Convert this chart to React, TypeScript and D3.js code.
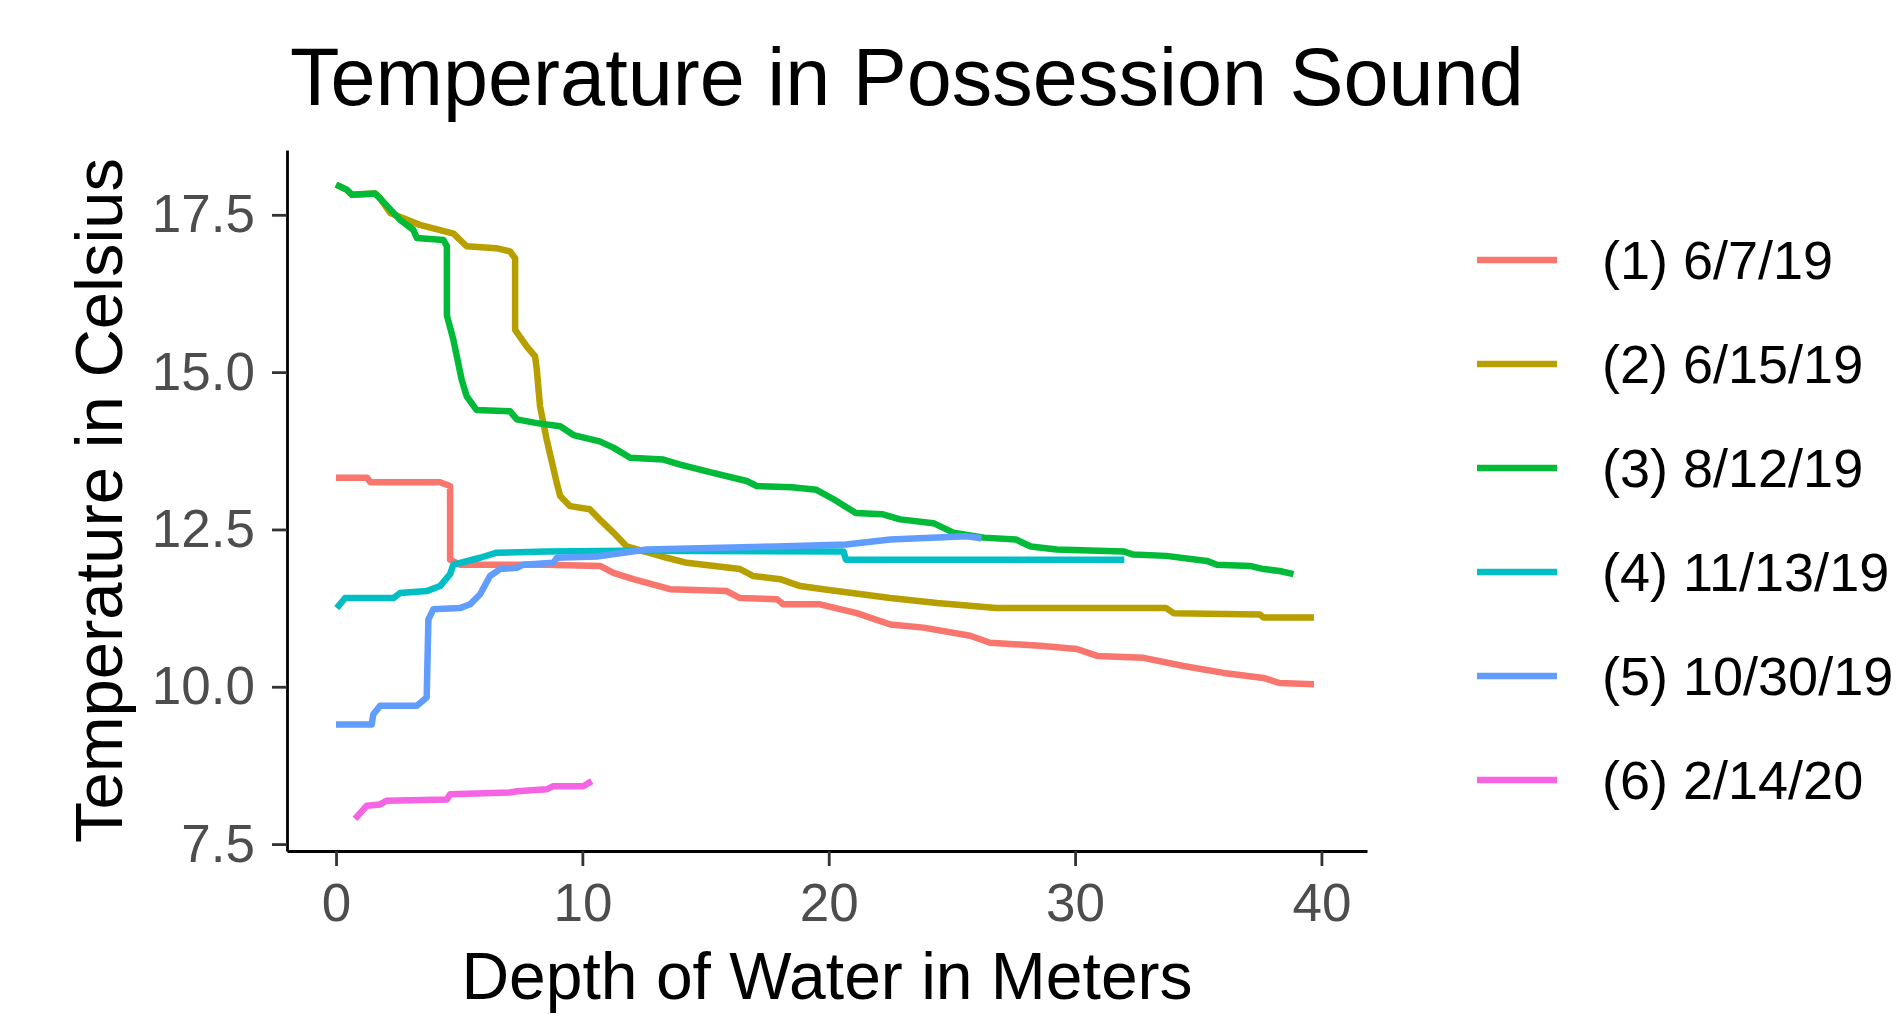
import React, { useEffect, useRef } from 'react'
import * as d3 from 'd3'

// legend labels + ggplot default hue palette
const seriesNames = ['(1) 6/7/19', '(2) 6/15/19', '(3) 8/12/19', '(4) 11/13/19', '(5) 10/30/19', '(6) 2/14/20']
const seriesColors = ['#F8766D', '#B79F00', '#00BA38', '#00BFC4', '#619CFF', '#F564E3']

// (1) 6/7/19
const depth1 = [0, 1.26, 1.4, 4.22, 4.63, 4.63, 5.03, 8.55, 10.72, 11.26, 12.07, 13.56, 15.86, 16.4, 17.9, 18.16, 19.65, 21.14, 22.5, 23.85, 25.74, 26.55, 28.58, 30.07, 30.9, 32.78, 34.4, 36.03, 37.65, 38.3, 39.7]
const temp1 = [13.32, 13.32, 13.25, 13.25, 13.19, 12.02, 11.94, 11.94, 11.92, 11.81, 11.71, 11.55, 11.52, 11.41, 11.39, 11.31, 11.31, 11.17, 10.99, 10.94, 10.81, 10.7, 10.65, 10.6, 10.49, 10.46, 10.33, 10.22, 10.14, 10.06, 10.04]

// (2) 6/15/19
const depth2 = [0, 0.43, 0.64, 1.58, 1.79, 2.2, 3.4, 4.5, 4.77, 5.3, 6.5, 7.06, 7.27, 7.27, 7.74, 8.08, 8.15, 8.28, 8.55, 8.96, 9.1, 9.5, 10.3, 10.7, 11.26, 11.8, 13.43, 14.24, 16.4, 16.94, 18.03, 18.84, 19.78, 22.5, 24.4, 26.8, 33.7, 34.0, 37.5, 37.65, 39.7]
const temp2 = [17.98, 17.9, 17.82, 17.84, 17.76, 17.53, 17.34, 17.23, 17.2, 17.0, 16.97, 16.92, 16.81, 15.67, 15.41, 15.25, 15.04, 14.46, 13.93, 13.24, 13.03, 12.87, 12.82, 12.66, 12.45, 12.23, 12.05, 11.97, 11.87, 11.76, 11.71, 11.6, 11.55, 11.41, 11.33, 11.25, 11.25, 11.17, 11.15, 11.1, 11.1]

// (3) 8/12/19
const depth3 = [0, 0.43, 0.64, 1.58, 1.79, 2.6, 3.14, 3.28, 4.36, 4.5, 4.5, 4.76, 5.1, 5.3, 5.7, 7.06, 7.34, 8.15, 9.1, 9.64, 10.7, 11.26, 11.94, 13.29, 13.97, 15.3, 16.67, 17.08, 18.5, 19.5, 20.2, 21.1, 22.2, 22.9, 24.25, 25.06, 26.3, 27.6, 28.2, 29.26, 31.96, 32.37, 33.7, 35.35, 35.76, 37.1, 37.65, 38.3, 38.87]
const temp3 = [17.98, 17.9, 17.82, 17.84, 17.76, 17.42, 17.26, 17.13, 17.1, 17.0, 15.9, 15.52, 14.88, 14.62, 14.4, 14.38, 14.25, 14.19, 14.14, 14.0, 13.9, 13.8, 13.64, 13.61, 13.53, 13.4, 13.27, 13.19, 13.17, 13.13, 12.98, 12.76, 12.74, 12.66, 12.6, 12.45, 12.37, 12.34, 12.23, 12.18, 12.15, 12.1, 12.08, 12.0, 11.94, 11.92, 11.87, 11.84, 11.79]

// (4) 11/13/19
const depth4 = [0.03, 0.37, 2.33, 2.6, 3.68, 4.22, 4.63, 4.76, 5.85, 6.52, 8.55, 11.8, 20.6, 20.7, 32]
const temp4 = [11.25, 11.41, 11.41, 11.49, 11.52, 11.6, 11.79, 11.94, 12.05, 12.13, 12.15, 12.16, 12.15, 12.02, 12.02]

// (5) 10/30/19
const depth5 = [0, 1.45, 1.51, 1.79, 3.28, 3.68, 3.75, 3.95, 5.03, 5.44, 5.85, 6.25, 6.66, 7.34, 7.6, 8.82, 8.96, 10.58, 12.6, 17.9, 20.7, 22.5, 25.6, 26.2]
const temp5 = [9.4, 9.4, 9.56, 9.7, 9.7, 9.83, 11.07, 11.23, 11.25, 11.31, 11.47, 11.76, 11.87, 11.89, 11.94, 11.97, 12.05, 12.07, 12.18, 12.23, 12.26, 12.34, 12.39, 12.36]

// (6) 2/14/20
const depth6 = [0.77, 1.25, 1.79, 2.06, 4.5, 4.63, 7.06, 7.34, 8.55, 8.82, 10.04, 10.38]
const temp6 = [7.9, 8.11, 8.13, 8.19, 8.21, 8.29, 8.32, 8.34, 8.37, 8.42, 8.42, 8.5]

const xTicks = [0, 10, 20, 30, 40]
const yTicks = [7.5, 10, 12.5, 15, 17.5]

const W = 1897
const H = 1014
const FONT = '"Liberation Sans", Arial, sans-serif'

const depths = [depth1, depth2, depth3, depth4, depth5, depth6]
const temps = [temp1, temp2, temp3, temp4, temp5, temp6]

export default function App() {
  const xAxisRef = useRef<SVGGElement>(null)
  const yAxisRef = useRef<SVGGElement>(null)

  const panel = { left: 287, right: 1367, top: 150, bottom: 851 }

  const x = d3.scaleLinear().domain([-1.99, 41.85]).range([panel.left, panel.right])
  const y = d3.scaleLinear().domain([7.39, 18.53]).range([panel.bottom, panel.top])

  const series = seriesNames.map((name, i) => ({
    name,
    color: seriesColors[i],
    points: depths[i].map((d, j) => [d, temps[i][j]] as [number, number]),
  }))

  const line = d3.line<[number, number]>()
    .x(d => x(d[0]))
    .y(d => y(d[1]))

  useEffect(() => {
    const xa = d3.select(xAxisRef.current!)
    xa.call(d3.axisBottom(x).tickValues(xTicks).tickFormat(d3.format('d')).tickSize(15).tickSizeOuter(0).tickPadding(17))
    const ya = d3.select(yAxisRef.current!)
    ya.call(d3.axisLeft(y).tickValues(yTicks).tickFormat(d3.format('.1f')).tickSize(15).tickSizeOuter(0).tickPadding(17))

    for (const g of [xa, ya]) {
      g.select('.domain').attr('stroke', '#000').attr('stroke-width', 2.8)
      g.selectAll('.tick line').attr('stroke', '#333').attr('stroke-width', 2.8)
      g.selectAll('.tick text')
        .attr('fill', '#4D4D4D')
        .style('font-family', FONT)
        .style('font-size', '53px')
    }
  }, [])

  return (
    <div style={{ position: 'fixed', left: 0, top: 0 }}>
      <svg width={W} height={H} style={{ display: 'block', background: '#fff' }}>
        <text x={290} y={105} fontFamily={FONT} fontSize={81} fill="#000">
          Temperature in Possession Sound
        </text>

        {series.map(s => (
          <path key={s.name} d={line(s.points) ?? ''} fill="none" stroke={s.color}
            strokeWidth={6.5} strokeLinejoin="round" strokeLinecap="butt" />
        ))}

        <g ref={xAxisRef} transform={`translate(0,${panel.bottom})`} />
        <g ref={yAxisRef} transform={`translate(${panel.left},0)`} />

        <text x={(panel.left + panel.right) / 2} y={999} textAnchor="middle"
          fontFamily={FONT} fontSize={66} fill="#000">
          Depth of Water in Meters
        </text>
        <text transform={`translate(122,${(panel.top + panel.bottom) / 2}) rotate(-90)`} textAnchor="middle"
          fontFamily={FONT} fontSize={67} fill="#000">
          Temperature in Celsius
        </text>

        <g>
          {series.map((s, i) => {
            const ly = 260 + i * 104
            return (
              <g key={s.name}>
                <line x1={1477} x2={1557} y1={ly} y2={ly} stroke={s.color} strokeWidth={6.5} />
                <text x={1602} y={ly} dy="0.36em" fontFamily={FONT} fontSize={54} fill="#000">
                  {s.name}
                </text>
              </g>
            )
          })}
        </g>
      </svg>
    </div>
  )
}
